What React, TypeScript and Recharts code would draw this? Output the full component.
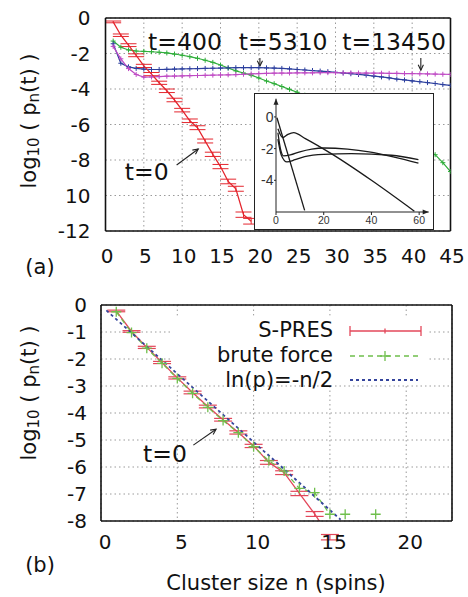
import React from 'react';
import {
  LineChart,
  Line,
  XAxis,
  YAxis,
  CartesianGrid,
  ErrorBar,
  ReferenceDot,
  ReferenceLine,
  ReferenceArea,
  Legend,
} from 'recharts';

const FONT = '"DejaVu Sans", "Liberation Sans", sans-serif';
const INSET_FONT = '"Liberation Sans", Arial, sans-serif';

// ---------- panel (a): log10 p_n(t) vs cluster size at four times ----------
const sizesA = Array.from({ length: 45 }, (_, i) => i + 1);
const xTicksA = [0, 5, 10, 15, 20, 25, 30, 35, 40, 45];
const yTicksA = [0, -2, -4, -6, -8, -10, -12];

const t0A = [
  -0.22, -0.97, -1.53, -2.1, -2.7, -3.16, -3.65, -4.1, -4.62, -5.19,
  -5.79, -6.18, -6.93, -7.68, -8.37, -9.21, -9.62, -11.08, -11.45,
];
const t0ErrA = [
  0.05, 0.07, 0.08, 0.08, 0.09, 0.09, 0.09, 0.1, 0.1, 0.1,
  0.1, 0.11, 0.11, 0.12, 0.12, 0.13, 0.14, 0.15, 0.16,
];
// null = hidden behind the inset
const t400A = [
  -1.3, -1.65, -1.8, -1.86, -1.88, -1.9, -1.93, -1.97, -2.03, -2.1,
  -2.18, -2.27, -2.38, -2.5, -2.65, -2.82, -2.98, -3.1, -3.22, -3.38,
  -3.55, -3.7, -3.86, -4.02, -4.18, -4.35, null, null, null, null,
  null, null, null, null, null, null, null, null, null, null,
  null, null, -7.7, -8.15, -8.65,
];
const t5310A = [
  -1.45, -2.55, -2.75, -2.84, -2.88, -2.9, -2.9, -2.89, -2.88, -2.87,
  -2.86, -2.85, -2.84, -2.83, -2.82, -2.81, -2.8, -2.8, -2.8, -2.8,
  -2.81, -2.82, -2.84, -2.87, -2.9, -2.93, -2.96, -2.99, -3.02, -3.06,
  -3.1, -3.14, -3.18, -3.22, -3.27, -3.32, -3.37, -3.44, -3.49, -3.54,
  -3.59, -3.64, -3.69, -3.75, -3.8,
];
const t13450A = [
  -1.6, -2.3, -2.85, -3.18, -3.33, -3.32, -3.3, -3.28, -3.27, -3.26,
  -3.25, -3.24, -3.23, -3.22, -3.21, -3.2, -3.19, -3.17, -3.15, -3.13,
  -3.12, -3.11, -3.1, -3.1, -3.09, -3.09, -3.09, -3.08, -3.08, -3.08,
  -3.09, -3.09, -3.1, -3.1, -3.11, -3.11, -3.12, -3.12, -3.13, -3.13,
  -3.14, -3.15, -3.16, -3.17, -3.18,
];

const labelsA = [
  { n: 10.37, v: -1.81, text: 't=400' },
  { n: 23.18, v: -1.81, text: 't=5310' },
  { n: 37.64, v: -1.81, text: 't=13450' },
  { n: 5.37, v: -9.12, text: 't=0' },
];
const arrowsA = [
  { from: [20.14, -2.26], to: [20.14, -2.71] },
  { from: [41.13, -2.26], to: [41.13, -2.94] },
  { from: [9.28, -8.28], to: [12.1, -7.38] },
];

// ---------- inset ----------
const insetXTicks = [0, 20, 40, 60];
const insetYTicks = [0, -2, -4];
const insetT0X = [0.4, 12];
const insetT0Y = [-0.05, -5.9];
const insetT400X = [0.8, 2.8, 5, 7.4, 12.3, 23.5, 40, 58];
const insetT400Y = [-0.75, -1.3, -1.1, -0.99, -1.37, -2.35, -4.0, -5.95];
const insetT5310X = [0.8, 2, 3.2, 6, 10, 15, 20, 30, 39, 50, 59.7];
const insetT5310Y = [-1.0, -2.1, -2.46, -2.4, -2.2, -2.03, -1.96, -2.03, -2.2, -2.55, -2.92];
const insetT13450X = [0.8, 2.2, 4.6, 8, 12, 20, 31.6, 48.4, 59.7];
const insetT13450Y = [-1.4, -2.4, -2.84, -2.7, -2.5, -2.36, -2.32, -2.42, -2.7];

// ---------- panel (b): t=0 comparison ----------
const sizesB = [1, 2, 3, 4, 5, 6, 7, 8, 9, 10, 11, 12, 13, 14, 15];
const xTicksB = [0, 5, 10, 15, 20];
const yTicksB = [0, -1, -2, -3, -4, -5, -6, -7, -8];
const spresB = [
  -0.22, -0.98, -1.57, -2.13, -2.7, -3.24, -3.76, -4.25, -4.72, -5.22,
  -5.83, -6.21, -6.98, -7.74, -8.6,
];
const spresErrB = [
  0.03, 0.03, 0.04, 0.04, 0.04, 0.05, 0.05, 0.05, 0.06, 0.06,
  0.07, 0.07, 0.08, 0.09, 0.1,
];
const bruteB = [
  -0.25, -1.02, -1.6, -2.16, -2.72, -3.27, -3.79, -4.28, -4.73, -5.25,
  -5.77, -6.15, -6.79, -6.95, -7.75,
];
const bruteExtraN = [16, 18];
const bruteExtraB = [-7.75, -7.75];
const fitN = [0.35, 15.7];
const fitB = [-0.2, -7.95];

const labelsB = [{ n: 4.19, v: -5.8, text: 't=0' }];
const arrowsB = [{ from: [6.05, -5.19], to: [7.54, -4.6] }];

// ---------- colours ----------
const RED_A = '#e4262e';
const GREEN_A = '#2fae3a';
const BLUE_A = '#2c3f9e';
const MAG_A = '#bf4bc4';
const RED_B = '#e3475a';
const GREEN_B = '#6fbf4c';
const BLUE_B = '#34449c';
const INK = '#111';

const rows = (xs: number[], ys: (number | null)[], errs?: number[]) =>
  xs
    .map((n, i) => ({ n, v: ys[i], err: errs ? errs[i] : 0 }))
    .filter((r) => r.v != null);

const frame = { stroke: INK, strokeWidth: 1.6 };
const tickStroke = { stroke: INK, strokeWidth: 1.3 };

function plusDot(color: string, arm: number, width = 1) {
  return (p: any) => {
    const { cx, cy, index } = p;
    if (cx == null || cy == null) return <g key={`e${index}`} />;
    return (
      <path
        key={`p${index}`}
        d={`M${cx - arm},${cy}H${cx + arm}M${cx},${cy - arm}V${cy + arm}`}
        stroke={color}
        strokeWidth={width}
        fill="none"
      />
    );
  };
}

function arrowShape(p: any) {
  const { x1, y1, x2, y2 } = p;
  const a = Math.atan2(y2 - y1, x2 - x1);
  const h = 6;
  const s = 0.45;
  const ax = x2 - h * Math.cos(a - s);
  const ay = y2 - h * Math.sin(a - s);
  const bx = x2 - h * Math.cos(a + s);
  const by = y2 - h * Math.sin(a + s);
  return (
    <g>
      <line x1={x1} y1={y1} x2={x2} y2={y2} stroke="#222" strokeWidth={1.1} />
      <path d={`M${ax},${ay}L${x2},${y2}L${bx},${by}`} stroke="#222" strokeWidth={1.1} fill="none" />
    </g>
  );
}

function textShape(text: string, size: number) {
  return (p: any) => (
    <text x={p.cx} y={p.cy} textAnchor="middle" fontSize={size} fontFamily={FONT} fill={INK}>
      {text}
    </text>
  );
}

function YLabel({ x, y }: { x: number; y: number }) {
  return (
    <text
      transform={`translate(${x},${y}) rotate(-90)`}
      textAnchor="middle"
      dominantBaseline="central"
      fontSize={21}
      fontFamily={FONT}
      fill={INK}
    >
      log
      <tspan dy={5} fontSize={15}>10</tspan>
      <tspan dy={-5}>{' ( p'}</tspan>
      <tspan dy={5} fontSize={15}>n</tspan>
      <tspan dy={-5}>{'(t) )'}</tspan>
    </text>
  );
}

const tickFont = { fontSize: 20, fill: INK, fontFamily: FONT };

function LegendB() {
  return (
    <svg width={256} height={80} style={{ display: 'block' }}>
      <g fontFamily={FONT} fontSize={21} fill={INK} textAnchor="end">
        <text x={161} y={14} dominantBaseline="central">S-PRES</text>
        <text x={161} y={39} dominantBaseline="central">brute force</text>
        <text x={161} y={64} dominantBaseline="central">ln(p)=-n/2</text>
      </g>
      <g stroke={RED_B} strokeWidth={1.3}>
        <line x1={178} y1={15} x2={249} y2={15} />
        <line x1={178} y1={10} x2={178} y2={20} />
        <line x1={249} y1={10} x2={249} y2={20} />
        <line x1={213} y1={12.5} x2={213} y2={17.5} />
      </g>
      <g stroke={GREEN_B} strokeWidth={1.3}>
        <line x1={178} y1={40} x2={249} y2={40} strokeDasharray="5 4" />
        <line x1={208} y1={40} x2={218} y2={40} />
        <line x1={213} y1={35} x2={213} y2={45} />
      </g>
      <line x1={178} y1={64} x2={246} y2={64} stroke={BLUE_B} strokeWidth={1.8} strokeDasharray="3 3" />
    </svg>
  );
}

function PanelA() {
  const common = { type: 'number' as const, dataKey: 'n', domain: [0, 45], ticks: xTicksA, allowDataOverflow: true };
  const commonY = { type: 'number' as const, domain: [-12, 0], ticks: yTicksA, allowDataOverflow: true };
  return (
    <LineChart width={468} height={290} margin={{ top: 18, right: 17.5, bottom: 0, left: 0 }}>
      <CartesianGrid stroke="#9a9a9a" strokeDasharray="1.5 3" />
      <XAxis
        {...common}
        interval={0}
        height={59}
        axisLine={frame}
        tickLine={false}
        tickSize={0}
        tickMargin={18}
        tick={{ ...tickFont, dx: 1.5 }}
        label={() => (
          <text x={40} y={274} textAnchor="middle" fontSize={21} fontFamily={FONT} fill={INK}>(a)</text>
        )}
      />
      <XAxis {...common} xAxisId="bt" orientation="bottom" mirror tick={false} axisLine={false} tickLine={tickStroke} tickSize={8} />
      <XAxis {...common} xAxisId="tp" orientation="top" mirror tick={false} axisLine={frame} tickLine={tickStroke} tickSize={8} />
      <YAxis
        {...commonY}
        interval={0}
        width={105.5}
        axisLine={frame}
        tickLine={false}
        tickSize={0}
        tickMargin={15}
        tick={tickFont}
        tickFormatter={(v: number) => (v === -10 ? '10' : String(v))}
        label={() => <YLabel x={29} y={121} />}
      />
      <YAxis {...commonY} yAxisId="lt" orientation="left" mirror tick={false} axisLine={false} tickLine={tickStroke} tickSize={8} />
      <YAxis {...commonY} yAxisId="rt" orientation="right" mirror tick={false} axisLine={frame} tickLine={tickStroke} tickSize={8} />

      <Line data={rows(sizesA, t400A)} dataKey="v" stroke={GREEN_A} strokeWidth={1.2} dot={plusDot(GREEN_A, 2.5)} isAnimationActive={false} />
      <Line data={rows(sizesA, t5310A)} dataKey="v" stroke={BLUE_A} strokeWidth={1.2} dot={plusDot(BLUE_A, 2.5)} isAnimationActive={false} />
      <Line data={rows(sizesA, t13450A)} dataKey="v" stroke={MAG_A} strokeWidth={1.2} dot={plusDot(MAG_A, 2.5)} isAnimationActive={false} />
      <Line data={rows(sizesA.slice(0, 19), t0A, t0ErrA)} dataKey="v" stroke={RED_A} strokeWidth={1.3} dot={false} isAnimationActive={false}>
        <ErrorBar dataKey="err" width={8} stroke={RED_A} strokeWidth={1} direction="y" isAnimationActive={false} />
      </Line>

      {arrowsA.map((a, i) => (
        <ReferenceLine key={`ar${i}`} segment={[{ x: a.from[0], y: a.from[1] }, { x: a.to[0], y: a.to[1] }]} shape={arrowShape} ifOverflow="visible" />
      ))}
      {labelsA.map((l, i) => (
        <ReferenceDot key={`lb${i}`} x={l.n} y={l.v} r={0} shape={textShape(l.text, 23.5)} ifOverflow="visible" />
      ))}
    </LineChart>
  );
}

function Inset() {
  const line = (xs: number[], ys: number[], k: string) => (
    <Line
      key={k}
      data={xs.map((x, i) => ({ x, y: ys[i] }))}
      dataKey="y"
      type="monotone"
      stroke="#1a1a1a"
      strokeWidth={1.3}
      dot={false}
      isAnimationActive={false}
    />
  );
  return (
    <LineChart width={178} height={135} margin={{ top: 4.7, right: 4.3, bottom: 0, left: 0 }}>
      <XAxis
        type="number"
        dataKey="x"
        domain={[0, 64]}
        ticks={insetXTicks}
        allowDataOverflow
        interval={0}
        height={17}
        axisLine={{ stroke: '#222', strokeWidth: 1 }}
        tickLine={{ stroke: '#222' }}
        tickSize={3}
        tickMargin={1.5}
        tick={{ fontSize: 10.5, fill: '#333', fontFamily: INSET_FONT }}
      />
      <YAxis
        type="number"
        domain={[-6, 1.15]}
        ticks={insetYTicks}
        allowDataOverflow
        interval={0}
        width={21}
        axisLine={{ stroke: '#222', strokeWidth: 1 }}
        tickLine={{ stroke: '#222' }}
        tickSize={2}
        tickMargin={0.5}
        tick={{ fontSize: 14, fill: '#333', fontFamily: INSET_FONT }}
      />
      {line(insetT0X, insetT0Y, 'a')}
      {line(insetT400X, insetT400Y, 'b')}
      {line(insetT5310X, insetT5310Y, 'c')}
      {line(insetT13450X, insetT13450Y, 'd')}
      <ReferenceDot
        x={64}
        y={-6}
        r={0}
        ifOverflow="visible"
        shape={(p: any) => <path d={`M${p.cx},${p.cy}l-6,-2.5v5z`} fill="#222" />}
      />
      <ReferenceDot
        x={0}
        y={1.15}
        r={0}
        ifOverflow="visible"
        shape={(p: any) => <path d={`M${p.cx},${p.cy}l-2.5,6h5z`} fill="#222" />}
      />
    </LineChart>
  );
}

function PanelB() {
  const common = { type: 'number' as const, dataKey: 'n', domain: [0, 23], ticks: xTicksB, allowDataOverflow: true };
  const commonY = { type: 'number' as const, domain: [-8, 0], ticks: yTicksB, allowDataOverflow: true };
  return (
    <LineChart width={468} height={307} margin={{ top: 15, right: 16, bottom: 0, left: 0 }}>
      <CartesianGrid stroke="#9a9a9a" strokeDasharray="1.5 3" />
      {/* the key box hides the grid, not the data */}
      <ReferenceArea x1={4.65} x2={21.4} y1={-0.4} y2={-2.93} fill="#fff" fillOpacity={1} stroke="none" ifOverflow="visible" />
      <XAxis
        {...common}
        interval={0}
        height={76}
        axisLine={frame}
        tickLine={false}
        tickSize={0}
        tickMargin={14}
        tick={{ ...tickFont, dx: 4 }}
        label={() => (
          <g fontSize={21} fontFamily={FONT} fill={INK} textAnchor="middle">
            <text x={276} y={300}>Cluster size n (spins)</text>
            <text x={40} y={282}>(b)</text>
          </g>
        )}
      />
      <XAxis {...common} xAxisId="bt" orientation="bottom" mirror tick={false} axisLine={false} tickLine={tickStroke} tickSize={8} />
      <XAxis {...common} xAxisId="tp" orientation="top" mirror tick={false} axisLine={frame} tickLine={tickStroke} tickSize={8} />
      <YAxis
        {...commonY}
        interval={0}
        width={101}
        axisLine={frame}
        tickLine={false}
        tickSize={0}
        tickMargin={14}
        tick={tickFont}
        label={() => <YLabel x={29} y={103} />}
      />
      <YAxis {...commonY} yAxisId="lt" orientation="left" mirror tick={false} axisLine={false} tickLine={tickStroke} tickSize={8} />
      <YAxis {...commonY} yAxisId="rt" orientation="right" mirror tick={false} axisLine={frame} tickLine={tickStroke} tickSize={8} />

      <Line data={rows(sizesB, spresB, spresErrB)} dataKey="v" stroke={RED_B} strokeWidth={1.3} dot={false} isAnimationActive={false}>
        <ErrorBar dataKey="err" width={9} stroke={RED_B} strokeWidth={1.2} direction="y" isAnimationActive={false} />
      </Line>
      <Line data={rows(sizesB, bruteB)} dataKey="v" stroke={GREEN_B} strokeWidth={1.3} strokeDasharray="5 4" dot={plusDot(GREEN_B, 5, 1.3)} isAnimationActive={false} />
      <Line data={rows(bruteExtraN, bruteExtraB)} dataKey="v" stroke="none" dot={plusDot(GREEN_B, 5, 1.3)} isAnimationActive={false} />
      <Line data={rows(fitN, fitB)} dataKey="v" stroke={BLUE_B} strokeWidth={1.8} strokeDasharray="3 3" dot={false} isAnimationActive={false} />

      {arrowsB.map((a, i) => (
        <ReferenceLine key={`ar${i}`} segment={[{ x: a.from[0], y: a.from[1] }, { x: a.to[0], y: a.to[1] }]} shape={arrowShape} ifOverflow="visible" />
      ))}
      {labelsB.map((l, i) => (
        <ReferenceDot key={`lb${i}`} x={l.n} y={l.v} r={0} shape={textShape(l.text, 23.5)} ifOverflow="visible" />
      ))}
      <Legend
        layout="horizontal"
        verticalAlign="middle"
        align="center"
        width={256}
        height={80}
        wrapperStyle={{ position: 'absolute', left: 172, top: 26, width: 256, height: 80 }}
        content={() => <LegendB />}
      />
    </LineChart>
  );
}

export default function App() {
  return (
    <div style={{ position: 'absolute', left: 0, top: 0, width: 468, height: 597, background: '#fff', fontFamily: FONT }}>
      <div style={{ position: 'absolute', left: 0, top: 0 }}>
        <PanelA />
      </div>
      <div
        style={{
          position: 'absolute',
          left: 253.5,
          top: 92.5,
          width: 178,
          height: 135,
          background: '#fff',
          border: '1.5px solid #222',
        }}
      >
        <Inset />
      </div>
      <div style={{ position: 'absolute', left: 0, top: 290 }}>
        <PanelB />
      </div>
    </div>
  );
}
